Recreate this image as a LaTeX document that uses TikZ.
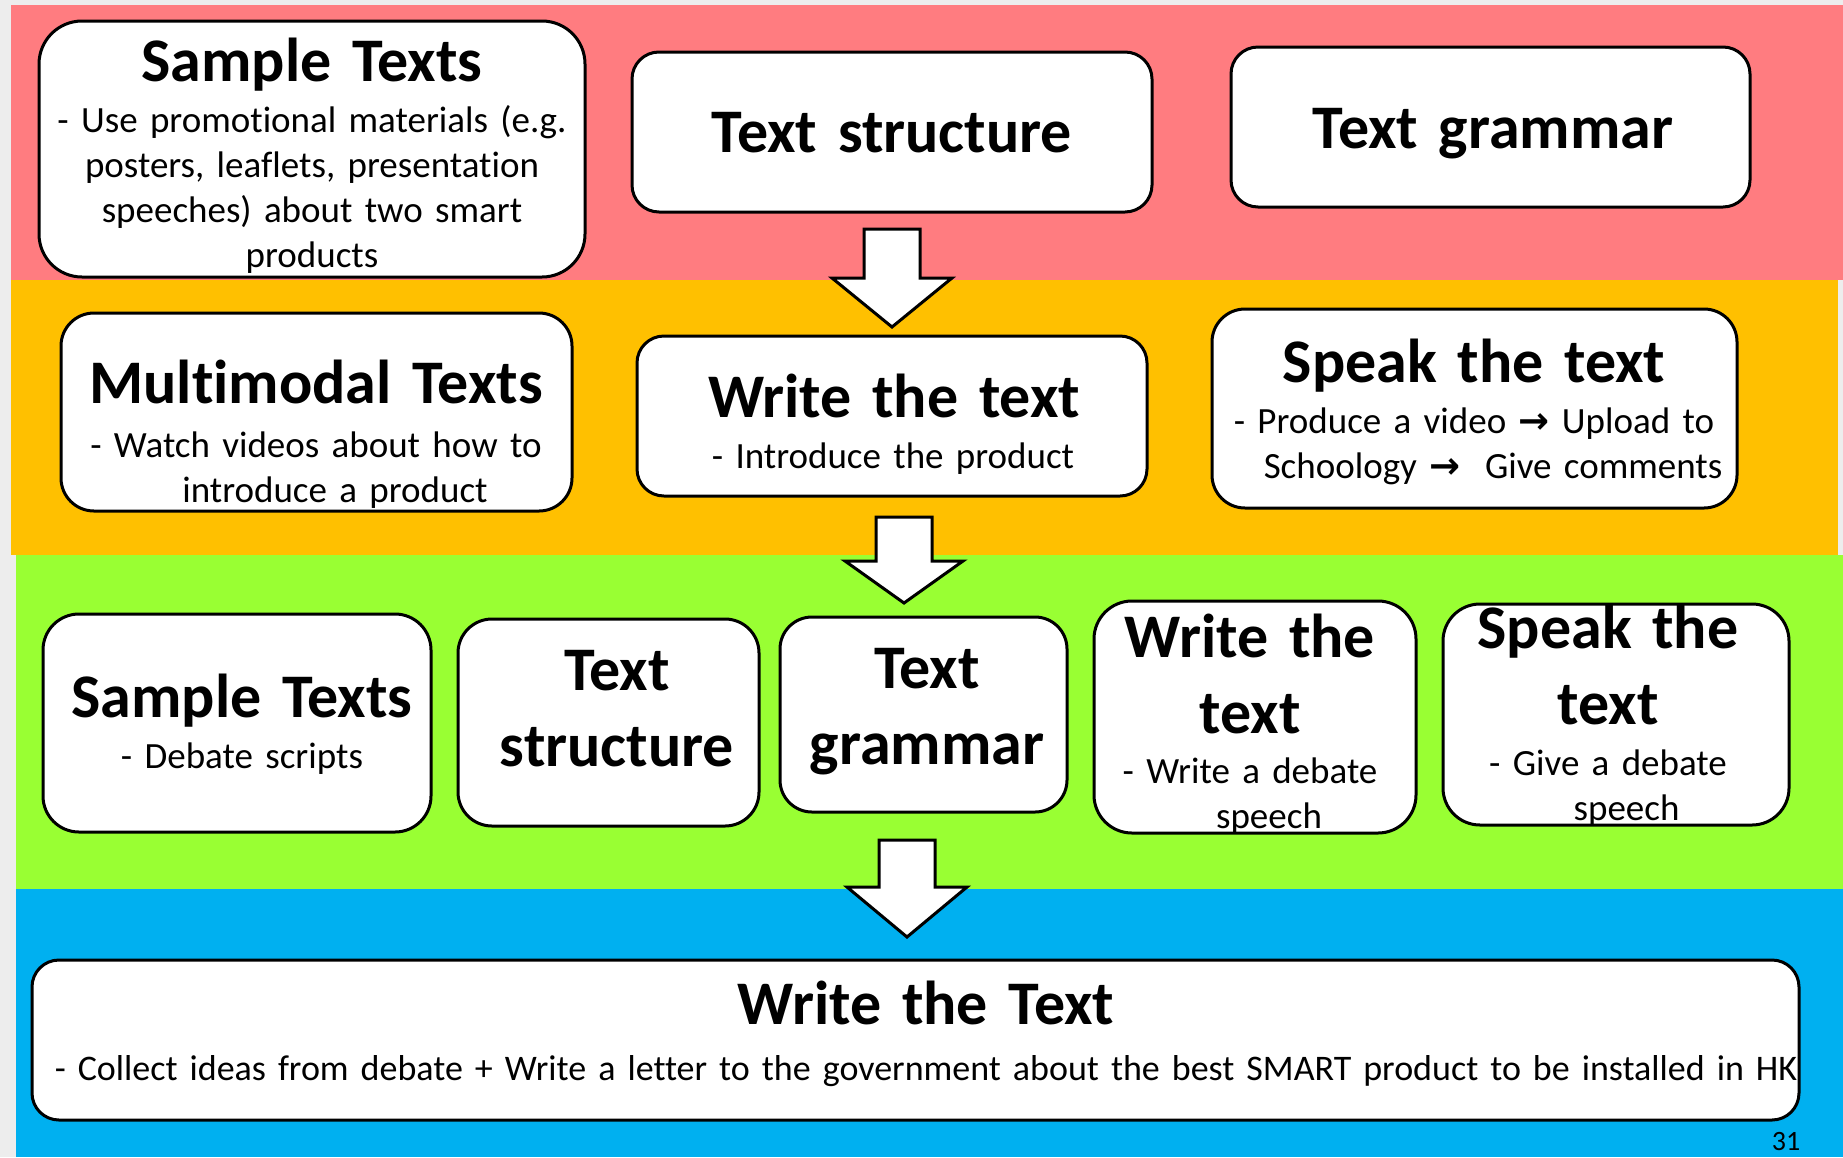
\documentclass[tikz,border=0pt]{standalone}
\usepackage{fontspec}
\setmainfont{Carlito}[Ligatures=NoCommon, WordSpace=0.9]
\newfontfamily\arrowfont{DejaVu Sans}
\definecolor{slidebg}{RGB}{237,237,237}
\definecolor{rowpink}{RGB}{255,124,128}
\definecolor{roworange}{RGB}{255,192,0}
\definecolor{rowgreen}{RGB}{153,255,51}
\definecolor{rowblue}{RGB}{0,176,240}
\newcommand\nextstep{{\arrowfont\bfseries →}}
\begin{document}
\begin{tikzpicture}[x=1pt,y=-1pt,
  stepbox/.style={draw=black, line width=3pt, fill=white, rectangle, inner sep=0pt},
  heading/.style={font={\fontsize{62}{76}\selectfont\bfseries}, text width=700pt,
    align=center, inner sep=0pt, anchor=base},
  detail/.style={font={\fontsize{37}{45}\selectfont}, text width=700pt,
    align=center, inner sep=0pt, anchor=base},
  flowarrow/.style={draw=black, line width=3pt, fill=white, line join=miter},
]
\useasboundingbox (0,0) rectangle (1843,1157);
\fill[slidebg] (0,0) rectangle (1843,1157);

% coloured rows
\fill[rowpink]   (11,5)   rectangle (1843,280);
\fill[roworange] (11,280) rectangle (1838,555);
\fill[rowgreen]  (16,555) rectangle (1843,889);
\fill[rowblue]   (16,889) rectangle (1843,1157);

% row 1
\node[stepbox, minimum width=546pt, minimum height=256pt, rounded corners=43pt] (a1) at (312,149) {};
\node[stepbox, minimum width=520pt, minimum height=160pt, rounded corners=27pt] (a2) at (892,132) {};
\node[stepbox, minimum width=519pt, minimum height=160pt, rounded corners=27pt] (a3) at (1490.5,127) {};
\node[heading] (a1t) at (312,81) {Sample Texts};
\node[detail] (a1d) at (312,132) {- Use promotional materials (e.g.\\posters, leaflets, presentation\\speeches) about two smart\\products};
\node[heading] (a2t) at (892,152) {Text structure};
\node[heading] (a3t) at (1493,148) {Text grammar};

% row 2
\node[stepbox, minimum width=511pt, minimum height=198pt, rounded corners=33pt] (b1) at (316.5,412) {};
\node[stepbox, minimum width=510pt, minimum height=160pt, rounded corners=27pt] (b2) at (892,416) {};
\node[stepbox, minimum width=525pt, minimum height=199pt, rounded corners=33pt] (b3) at (1474.5,408.5) {};
\node[heading] (b1t) at (316,403) {Multimodal Texts};
\node[detail] (b1d) at (316,457) {- Watch videos about how to\\\hspace*{38pt}introduce a product};
\node[heading] (b2t) at (894,417) {Write the text};
\node[detail] (b2d) at (893,468) {- Introduce the product};
\node[heading] (b3t) at (1474,382) {Speak the text};
\node[detail] (b3d) at (1474,433) {- Produce a video \nextstep{} Upload to\\\hspace*{38pt}Schoology \nextstep{}\ \ Give comments};

% row 3
\node[stepbox, minimum width=388pt, minimum height=218pt, rounded corners=36pt] (c1) at (237,723) {};
\node[stepbox, minimum width=301pt, minimum height=207pt, rounded corners=34pt] (c2) at (608.5,722.5) {};
\node[stepbox, minimum width=287pt, minimum height=195pt, rounded corners=32pt] (c3) at (923.5,714.5) {};
\node[stepbox, minimum width=322pt, minimum height=232pt, rounded corners=38pt] (c4) at (1255,717) {};
\node[stepbox, minimum width=346pt, minimum height=221pt, rounded corners=37pt] (c5) at (1616,714.5) {};
\node[heading] (c1t) at (242,717) {Sample Texts};
\node[detail] (c1d) at (242,768) {- Debate scripts};
\node[heading] (c2t) at (617,690) {Text\\structure};
\node[heading] (c3t) at (927,688) {Text\\grammar};
\node[heading] (c4t) at (1250,657) {Write the\\text};
\node[detail] (c4d) at (1250,783) {- Write a debate\\\hspace*{38pt}speech};
\node[heading] (c5t) at (1608,648) {Speak the\\text};
\node[detail] (c5d) at (1608,775) {- Give a debate\\\hspace*{37pt}speech};

% row 4
\node[stepbox, minimum width=1767pt, minimum height=160pt, rounded corners=27pt] (d1) at (915.5,1040) {};
\node[heading] (d1t) at (926,1024) {Write the Text};
\node[detail, text width=1800pt, font={\fontsize{36}{44}\selectfont}] (d1d) at (926,1080) {- Collect ideas from debate + Write a letter to the government about the best SMART product to be installed in HK};

% block arrows between the rows
\draw[flowarrow, shift={(892,229)}] (-28,0) -- (28,0) -- (28,49) -- (60,49) -- (0,98) -- (-60,49) -- (-28,49) -- cycle;
\draw[flowarrow, shift={(904,517)}] (-28,0) -- (28,0) -- (28,44) -- (59,44) -- (0,86) -- (-59,44) -- (-28,44) -- cycle;
\draw[flowarrow, shift={(907,840)}] (-28,0) -- (28,0) -- (28,47) -- (60,47) -- (0,97) -- (-60,47) -- (-28,47) -- cycle;

% slide number
\node[font={\fontsize{28}{34}\selectfont}, anchor=base, inner sep=0pt] (pageno) at (1786,1150) {31};
\end{tikzpicture}
\end{document}
